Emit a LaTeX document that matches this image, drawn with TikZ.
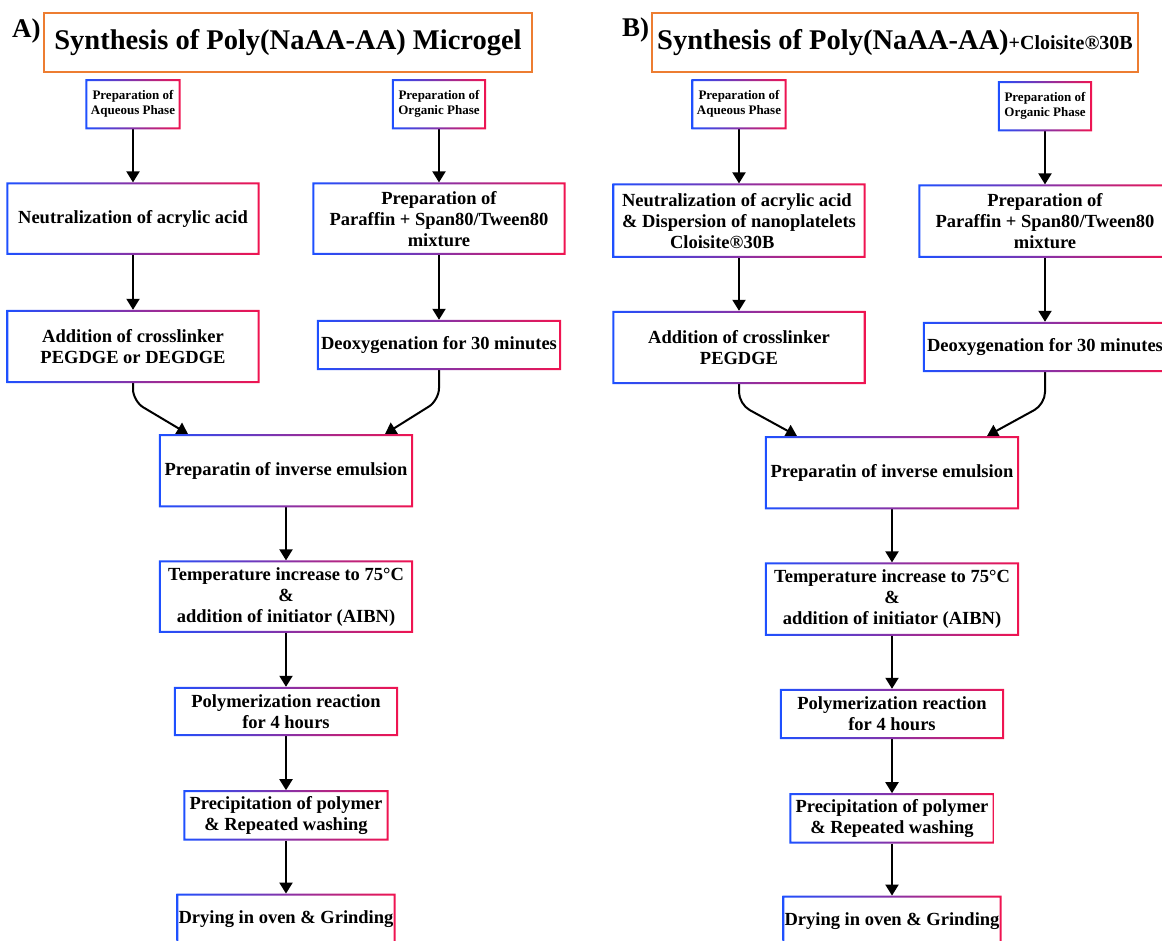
\documentclass[tikz,border=0pt]{standalone}
\usepackage{fontspec}
\setmainfont{Liberation Serif}
\usetikzlibrary{arrows.meta,positioning}

\definecolor{frameblue}{RGB}{30,80,255}
\definecolor{framered}{RGB}{240,20,80}
\definecolor{titleorange}{RGB}{237,125,49}

% blue-to-red frame round a named node
\newcommand{\gradframe}[1]{%
  \shade[even odd rule, left color=frameblue, right color=framered]
    (#1.south west) rectangle (#1.north east)
    ([shift={(2pt,-2pt)}]#1.north west) rectangle ([shift={(-2pt,2pt)}]#1.south east);}

\begin{document}
\begin{tikzpicture}[x=1pt, y=-1pt,
  stepbox/.style = {minimum width=253, minimum height=72, align=center, inner sep=2pt,
                    font=\bfseries\fontsize{18.5}{21}\selectfont},
  phasebox/.style = {stepbox, minimum width=95, minimum height=50,
                     font=\bfseries\fontsize{13}{15}\selectfont},
  titlebox/.style = {draw=titleorange, line width=2pt, minimum width=488, minimum height=59,
                     inner sep=2pt, font=\bfseries\fontsize{28.5}{32}\selectfont},
  panel/.style = {font=\bfseries\fontsize{27}{30}\selectfont, anchor=base west, inner sep=0pt},
  arr/.style = {line width=2pt, -{Triangle[width=13pt,length=11pt]}}]

  \useasboundingbox (0,0) rectangle (1162,940);
  \clip (0,0) rectangle (1162,940);

  % panel A
  \node[panel] (labA) at (12,37) {A)};
  \node[titlebox, anchor=north west] (titA) at (43,12) {Synthesis of Poly(NaAA-AA) Microgel};
  \node[phasebox, anchor=north] (aqA) at (133,79) {Preparation of\\Aqueous Phase};
  \node[phasebox, anchor=north, minimum width=94] (orgA) at (439,79) {Preparation of\\Organic Phase};
  \node[stepbox, below=53pt of aqA] (neuA) {Neutralization of acrylic acid};
  \node[stepbox, below=55pt of neuA, minimum height=73] (addA) {Addition of crosslinker\\PEGDGE or DEGDGE};
  \node[stepbox, below=53pt of orgA] (parA) {Preparation of\\Paraffin + Span80/Tween80\\mixture};
  \node[stepbox, below=65pt of parA, minimum width=244, minimum height=50] (deoA) {Deoxygenation for 30 minutes};
  \node[stepbox, anchor=north, minimum width=254, minimum height=73] (emuA) at (286,434) {Preparatin of inverse emulsion};
  \node[stepbox, below=53pt of emuA, minimum width=254] (temA) {Temperature increase to 75°C\\\&\\addition of initiator (AIBN)};
  \node[stepbox, below=54pt of temA, minimum width=224, minimum height=49] (polA) {Polymerization reaction\\for 4 hours};
  \node[stepbox, below=54pt of polA, minimum width=205, minimum height=50] (preA) {Precipitation of polymer\\\& Repeated washing};
  \node[stepbox, below=53pt of preA, minimum width=216, minimum height=50] (dryA) {Drying in oven \& Grinding};

  \draw[arr] (aqA) -- (neuA);
  \draw[arr] (neuA) -- (addA);
  \draw[arr] (orgA) -- (parA);
  \draw[arr] (parA) -- (deoA);
  \draw[arr, rounded corners=12pt] (addA.south) -- ++(0,18) -- ([xshift=-98pt]emuA.north);
  \draw[arr, rounded corners=12pt] (deoA.south) -- ++(0,30) -- ([xshift=99pt]emuA.north);
  \draw[arr] (emuA) -- (temA);
  \draw[arr] (temA) -- (polA);
  \draw[arr] (polA) -- (preA);
  \draw[arr] (preA) -- (dryA);

  % panel B
  \node[panel] (labB) at (622,36) {B)};
  \node[titlebox, anchor=north west, minimum width=486] (titB) at (651,12) {Synthesis of Poly(NaAA-AA){\fontsize{20}{24}\selectfont+Cloisite®30B}};
  \node[phasebox, anchor=north] (aqB) at (739,79) {Preparation of\\Aqueous Phase};
  \node[phasebox, anchor=north, minimum width=94] (orgB) at (1045,81) {Preparation of\\Organic Phase};
  \node[stepbox, below=54pt of aqB, minimum height=74, align=left] (neuB) {Neutralization of acrylic acid\\\& Dispersion of nanoplatelets\\\hspace*{48pt}Cloisite®30B};
  \node[stepbox, below=53pt of neuB, minimum height=73] (addB) {Addition of crosslinker\\PEGDGE};
  \node[stepbox, below=53pt of orgB, minimum height=73] (parB) {Preparation of\\Paraffin + Span80/Tween80\\mixture};
  \node[stepbox, below=64pt of parB, minimum width=244, minimum height=50] (deoB) {Deoxygenation for 30 minutes};
  \node[stepbox, anchor=north, minimum width=254, minimum height=73] (emuB) at (892,436) {Preparatin of inverse emulsion};
  \node[stepbox, below=53pt of emuB, minimum width=254, minimum height=73] (temB) {Temperature increase to 75°C\\\&\\addition of initiator (AIBN)};
  \node[stepbox, below=53pt of temB, minimum width=224, minimum height=50] (polB) {Polymerization reaction\\for 4 hours};
  \node[stepbox, below=54pt of polB, minimum width=205, minimum height=50] (preB) {Precipitation of polymer\\\& Repeated washing};
  \node[stepbox, below=52pt of preB, minimum width=216, minimum height=50] (dryB) {Drying in oven \& Grinding};

  \draw[arr] (aqB) -- (neuB);
  \draw[arr] (neuB) -- (addB);
  \draw[arr] (orgB) -- (parB);
  \draw[arr] (parB) -- (deoB);
  \draw[arr, rounded corners=12pt] (addB.south) -- ++(0,20) -- ([xshift=-95pt]emuB.north);
  \draw[arr, rounded corners=12pt] (deoB.south) -- ++(0,32) -- ([xshift=95pt]emuB.north);
  \draw[arr] (emuB) -- (temB);
  \draw[arr] (temB) -- (polB);
  \draw[arr] (polB) -- (preB);
  \draw[arr] (preB) -- (dryB);

  \foreach \n in {aqA,orgA,neuA,addA,parA,deoA,emuA,temA,polA,preA,dryA,
                  aqB,orgB,neuB,addB,parB,deoB,emuB,temB,polB,preB,dryB}
    {\gradframe{\n}}
\end{tikzpicture}
\end{document}
